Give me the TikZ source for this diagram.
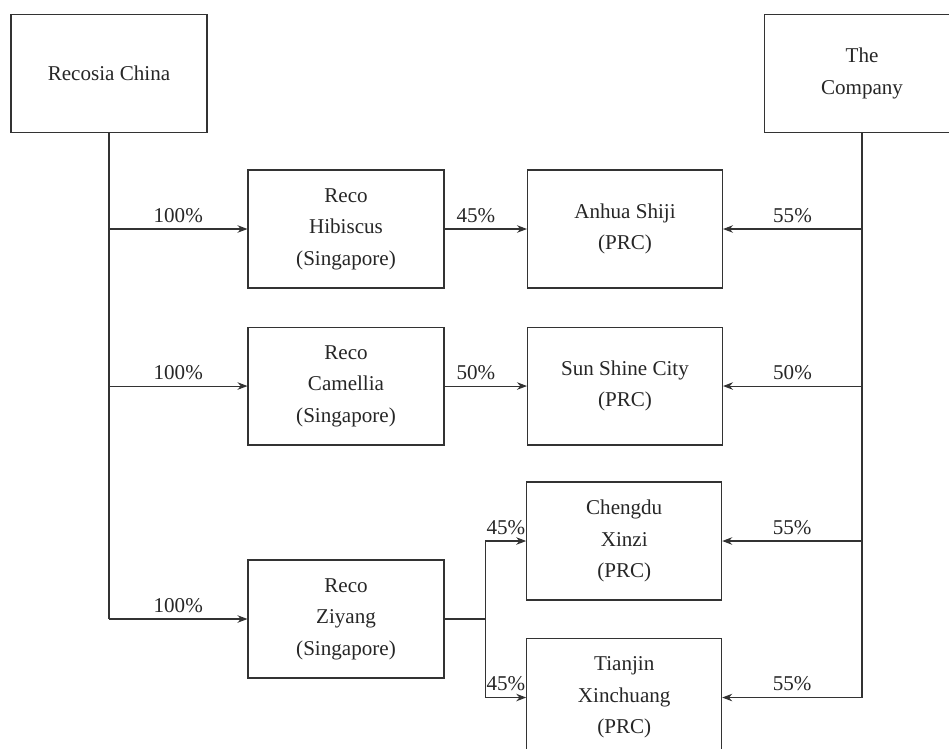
\documentclass[tikz,border=0pt]{standalone}
\usepackage{fontspec}
\setmainfont{Liberation Serif}
\usetikzlibrary{arrows.meta,positioning,calc}

\begin{document}
\begin{tikzpicture}[x=0.02cm,y=-0.02cm]

  \tikzstyle{every node}=[font=\fontsize{12}{18}\selectfont, text=black!85]

  \tikzset{entity/.style={draw=black!80, line width=0.6pt, minimum width=3.92cm,
      minimum height=2.36cm, align=center, inner sep=0pt},
    prc/.style={entity, minimum width=3.9cm},
    holding/.style={draw=black!80, line width=0.6pt},
    myptr/.style={holding, -{Stealth[length=2mm,width=1.5mm]}}}

  \clip (0,0) rectangle (949,748);

  % Shareholders
  \node[entity] (Recosia China) at (109,73.5) {Recosia China};
  \node[entity] (The Company) at (862,73.5) {The\\Company};

  % Singapore companies
  \node[entity] (Reco Hibiscus) at (346,229) {Reco\\Hibiscus\\(Singapore)};
  \node[entity, below=0.76cm of Reco Hibiscus] (Reco Camellia) {Reco\\Camellia\\(Singapore)};
  \node[entity] (Reco Ziyang) at (346,619) {Reco\\Ziyang\\(Singapore)};

  % PRC companies
  \node[prc, right=1.65cm of Reco Hibiscus] (Anhua Shiji) {Anhua Shiji\\(PRC)};
  \node[prc, right=1.65cm of Reco Camellia] (Sun Shine City) {Sun Shine City\\(PRC)};
  \node[prc] (Chengdu Xinzi) at (624.2,541) {Chengdu\\Xinzi\\(PRC)};
  \node[prc, below=0.75cm of Chengdu Xinzi] (Tianjin Xinchuang) {Tianjin\\Xinchuang\\(PRC)};

  % Recosia China holdings
  \draw[holding] (Recosia China.south) -- (Recosia China.south |- Reco Ziyang.west);
  \draw[myptr] (Recosia China.south |- Reco Hibiscus.west) -- (Reco Hibiscus.west)
    node[midway, above] {100\%};
  \draw[myptr] (Recosia China.south |- Reco Camellia.west) -- (Reco Camellia.west)
    node[midway, above] {100\%};
  \draw[myptr] (Recosia China.south |- Reco Ziyang.west) -- (Reco Ziyang.west)
    node[midway, above] {100\%};

  % Singapore companies into PRC
  \draw[myptr] (Reco Hibiscus.east) -- (Anhua Shiji.west) node[pos=0.38, above] {45\%};
  \draw[myptr] (Reco Camellia.east) -- (Sun Shine City.west) node[pos=0.38, above] {50\%};

  % Fork for Ziyang
  \coordinate (Ziyang fork) at ($(Reco Ziyang.east) + (41,0)$);
  \draw[holding] (Reco Ziyang.east) -- (Ziyang fork);
  \draw[myptr] (Ziyang fork) |- (Chengdu Xinzi.west) node[pos=0.75, above] {45\%};
  \draw[myptr] (Ziyang fork) |- (Tianjin Xinchuang.west) node[pos=0.75, above] {45\%};

  % The Company holdings
  \draw[holding] (The Company.south) -- (The Company.south |- Tianjin Xinchuang.east);
  \draw[myptr] (The Company.south |- Anhua Shiji.east) -- (Anhua Shiji.east)
    node[midway, above] {55\%};
  \draw[myptr] (The Company.south |- Sun Shine City.east) -- (Sun Shine City.east)
    node[midway, above] {50\%};
  \draw[myptr] (The Company.south |- Chengdu Xinzi.east) -- (Chengdu Xinzi.east)
    node[midway, above] {55\%};
  \draw[myptr] (The Company.south |- Tianjin Xinchuang.east) -- (Tianjin Xinchuang.east)
    node[midway, above] {55\%};

\end{tikzpicture}
\end{document}
